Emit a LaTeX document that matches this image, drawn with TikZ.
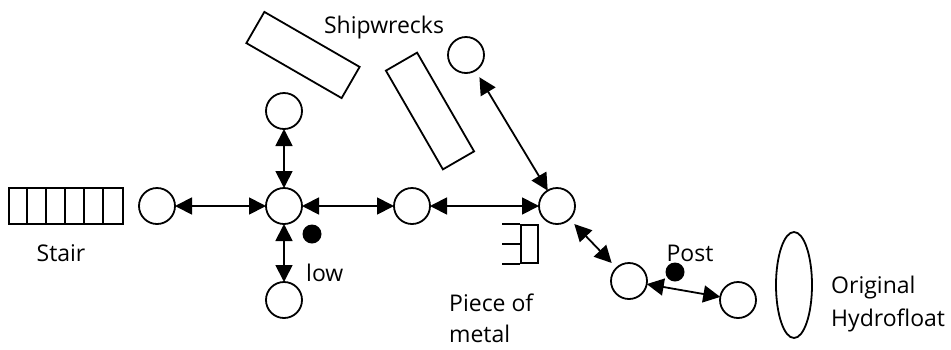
\documentclass[tikz,border=0pt]{standalone}
\usepackage{fontspec}
\setmainfont{Open Sans}
\usetikzlibrary{arrows.meta,calc}
\begin{document}
\begin{tikzpicture}[x=1pt,y=-1pt,
  nd/.style={circle,draw,line width=1.8pt,minimum size=36pt,inner sep=0pt,outer sep=0pt},
  conn/.style={{Triangle[length=17pt,width=17pt]}-{Triangle[length=17pt,width=17pt]},line width=1.8pt},
  lbl/.style={inner sep=0pt,font=\fontsize{23}{27}\selectfont},
  wreck/.style={draw,line width=1.8pt,minimum height=36pt,inner sep=0pt},
  dot/.style={circle,fill=black,minimum size=19pt,inner sep=0pt}]
\useasboundingbox (0,0) rectangle (951,349);
% nodes
\node[nd] (a) at (157,206) {};
\node[nd] (hub) at (284,206) {};
\node[nd] (top) at (284,111) {};
\node[nd] (bot) at (284,300) {};
\node[nd] (mid) at (412,206) {};
\node[nd] (jn) at (557,206) {};
\node[nd] (tr) at (466,55) {};
\node[nd] (p1) at (629,281) {};
\node[nd] (p2) at (738,300) {};
% connectors
\draw[conn] (a) -- (hub);
\draw[conn] (hub) -- (top);
\draw[conn] (hub) -- (bot);
\draw[conn] (hub) -- (mid);
\draw[conn] (mid) -- (jn);
\draw[conn,shorten <=8pt] (tr) -- (jn);
\draw[conn,shorten <=7pt,shorten >=7pt] (jn) -- (p1);
\draw[conn] (p1) -- (p2);
% stair
\node[draw,line width=1.8pt,minimum width=114pt,minimum height=36pt,inner sep=0pt] (stair) at (66,206) {};
\foreach \i in {1,...,5} {\draw[line width=1.8pt] ($(stair.north west)+(19*\i,0)$) -- ($(stair.south west)+(19*\i,0)$);}
\node[lbl] (stairl) at (61,253) {Stair};
% shipwrecks
\node[wreck,minimum width=110pt,rotate=-30] (w1) at (303,55) {};
\node[wreck,minimum width=114pt,rotate=-60] (w2) at (430,111) {};
\node[lbl] (shipl) at (384,28) {Shipwrecks};
% dots
\node[dot] (d1) at (312,234) {};
\node[dot] (d2) at (675,272) {};
\node[lbl,anchor=west] (lowl) at (306,273) {low};
\node[lbl] (postl) at (690,253) {Post};
% piece of metal
\node[draw,line width=1.8pt,minimum width=17pt,minimum height=38pt,inner sep=0pt] (pm) at (529.5,244) {};
\draw[line width=1.8pt] (pm.north west) -- ++(-18,0);
\draw[line width=1.8pt] (pm.west) -- ++(-18,0);
\draw[line width=1.8pt] (pm.south west) -- ++(-18,0);
\node[lbl,anchor=west] (pml1) at (449,303) {Piece of};
\node[lbl,anchor=west] (pml2) at (449,334) {metal};
% hydrofloat
\draw[line width=1.8pt] (794,285) ellipse [x radius=18, y radius=53];
\node[lbl,anchor=west] (hl1) at (831,288) {Original};
\node[lbl,anchor=west] (hl2) at (831,320) {Hydrofloat};
\end{tikzpicture}
\end{document}
